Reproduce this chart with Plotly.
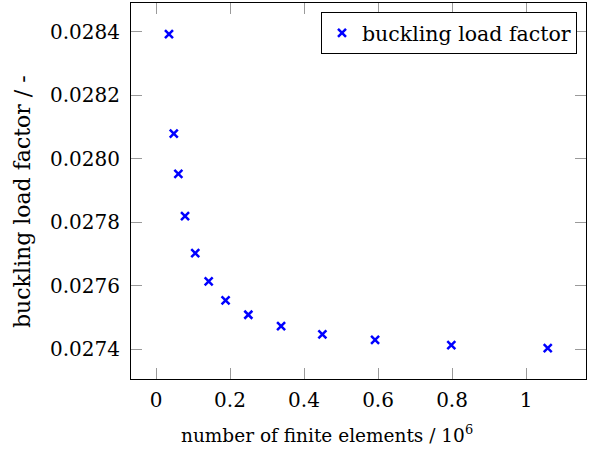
import plotly.graph_objects as go

# data (x in 10^6 elements)
elements = [0.035, 0.048, 0.0604, 0.0784, 0.106, 0.1423, 0.188, 0.2495, 0.338, 0.4496, 0.592, 0.798, 1.0586]
blf = [0.028393, 0.028079, 0.027952, 0.027819, 0.027702, 0.027613, 0.027553, 0.027508, 0.027472, 0.027446, 0.027429, 0.027412, 0.027403]

x_ticks = [0, 0.2, 0.4, 0.6, 0.8, 1]
x_tick_labels = ["0", "0.2", "0.4", "0.6", "0.8", "1"]
y_ticks = [0.0274, 0.0276, 0.0278, 0.0280, 0.0282, 0.0284]
y_tick_labels = ["0.0274", "0.0276", "0.0278", "0.0280", "0.0282", "0.0284"]

FONT = "DejaVu Serif"
FS = 20

fig = go.Figure()
fig.add_trace(go.Scatter(
    x=elements, y=blf, mode="markers", name="buckling load factor",
    marker=dict(symbol="x-thin-open", size=8, color="#0000ff",
                line=dict(width=2.5, color="#0000ff")),
))

L, R, T, B = 131, 14, 3, 73
W, H = 600, 452
pw, ph = W - L - R, H - T - B

axis_common = dict(
    showgrid=False, zeroline=False, showline=True, linecolor="#000000", linewidth=1,
    mirror="allticks", ticks="inside", ticklen=11, tickcolor="#9a9a9a", tickwidth=1,
    tickfont=dict(family=FONT, size=FS, color="#000000"),
)

fig.update_layout(
    width=W, height=H,
    margin=dict(l=L, r=R, t=T, b=B, autoexpand=False),
    paper_bgcolor="white", plot_bgcolor="white",
    font=dict(family=FONT, size=FS, color="#000000"),
    xaxis=dict(range=[-0.0676, 1.162], tickvals=x_ticks, ticktext=x_tick_labels,
               ticklabelstandoff=3, **axis_common),
    yaxis=dict(range=[0.0273054, 0.028491], tickvals=y_ticks, ticktext=y_tick_labels,
               ticklabelstandoff=6, **axis_common),
    showlegend=True,
    legend=dict(x=(577 - L) / pw, y=1 - (12 - T) / ph, xanchor="right", yanchor="top",
                bgcolor="white", bordercolor="#000000", borderwidth=1,
                font=dict(family=FONT, size=20.5, color="#000000"),
                itemwidth=30, tracegroupgap=0),
    annotations=[
        dict(text="number of finite elements / 10<sup>6</sup>", xref="paper", yref="paper",
             x=(326.5 - L) / pw, y=1 - (434 - T) / ph, xanchor="center", yanchor="middle",
             showarrow=False, font=dict(family=FONT, size=18.5)),
        dict(text="buckling load factor / -", xref="paper", yref="paper",
             x=(22 - L) / pw, y=1 - (202 - T) / ph, xanchor="center", yanchor="middle",
             textangle=-90, showarrow=False, font=dict(family=FONT, size=22)),
    ],
)

fig.write_html("out.html", config={"displayModeBar": False},
               post_script="document.body.style.margin='0px';")
